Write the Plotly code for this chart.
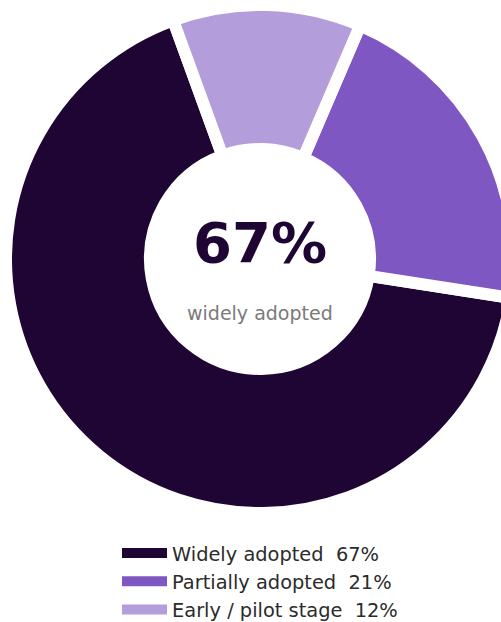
import plotly.graph_objects as go

# Adoption breakdown
labels = ["Widely adopted", "Partially adopted", "Early / pilot stage"]
values = [67, 21, 12]
colors = ["#1e0534", "#7e57c2", "#b39ddb"]

center_value = "67%"
center_caption = "widely adopted"

W, H = 520, 622

fig = go.Figure()

fig.add_trace(go.Pie(
    labels=labels,
    values=values,
    hole=0.433,
    sort=False,
    direction="counterclockwise",
    rotation=98.8,
    marker=dict(colors=colors, line=dict(color="white", width=12)),
    textinfo="none",
    hoverinfo="label+percent",
    showlegend=False,
    domain=dict(x=[0, 1], y=[1 - 513 / H, 1 - 5 / H]),
))

# Legend entries with wide swatches
for lab, val, col in zip(labels, values, colors):
    fig.add_trace(go.Scatter(
        x=[None], y=[None], mode="lines",
        line=dict(color=col, width=15),
        name=f"{lab}  {val}%",
        hoverinfo="skip",
    ))

# Headline figure in the hole
fig.add_annotation(
    text=f"<b>{center_value}</b>", x=W / 2, y=242, xref="x", yref="y",
    showarrow=False, font=dict(family="DejaVu Sans", size=56, color="#1e0534"),
)
fig.add_annotation(
    text=center_caption, x=W / 2, y=313, xref="x", yref="y",
    showarrow=False, font=dict(family="DejaVu Sans", size=19, color="#7a7a7a"),
)

fig.update_layout(
    width=W, height=H,
    margin=dict(l=0, r=0, t=0, b=0, autoexpand=False),
    paper_bgcolor="white", plot_bgcolor="white",
    font=dict(family="DejaVu Sans", size=19, color="#2b2b2b"),
    legend=dict(orientation="v", x=0.5, xanchor="center", y=-0.011, yanchor="bottom",
                itemwidth=45, font=dict(size=19.4)),
    xaxis=dict(visible=False, range=[0, W]),
    yaxis=dict(visible=False, range=[H, 0]),
)

fig.write_html("out.html")
